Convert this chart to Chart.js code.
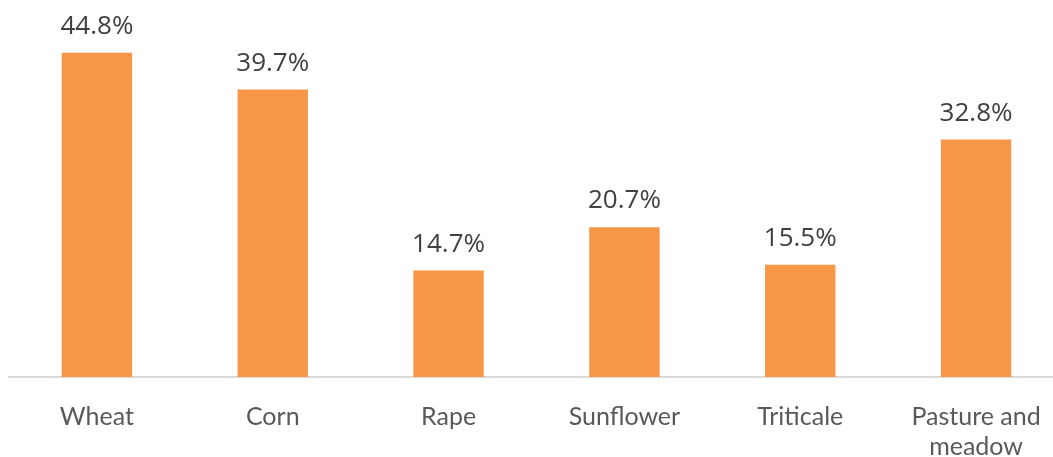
<!DOCTYPE html>
<html>
<head>
<meta charset="utf-8">
<script src="https://cdn.jsdelivr.net/npm/chart.js@4/dist/chart.umd.min.js"></script>
<style>
  html, body { margin: 0; padding: 0; background: #fff; overflow: hidden; }
  #wrap { position: relative; width: 1064px; height: 457px; }
</style>
</head>
<body>
<div id="wrap"><canvas id="cropChart"></canvas></div>
<script>
"use strict";

const crops = ["Wheat", "Corn", "Rape", "Sunflower", "Triticale", ["Pasture and", "meadow"]];
const shares = [44.8, 39.7, 14.7, 20.7, 15.5, 32.8];
const barColor = "#F79646";

// draws the percentage above each bar
const valueLabels = {
  id: "valueLabels",
  afterDatasetsDraw(chart) {
    const ctx = chart.ctx;
    const meta = chart.getDatasetMeta(0);
    ctx.save();
    ctx.font = "26px 'Open Sans'";
    ctx.fillStyle = "#404040";
    ctx.textAlign = "center";
    ctx.textBaseline = "alphabetic";
    meta.data.forEach((bar, i) => {
      ctx.fillText(shares[i].toFixed(1) + "%", bar.x, bar.y - 19);
    });
    ctx.restore();
  }
};

const ctx = document.getElementById("cropChart").getContext("2d");
new Chart(ctx, {
  type: "bar",
  data: {
    labels: crops,
    datasets: [{
      data: shares,
      backgroundColor: barColor,
      borderWidth: 0,
      categoryPercentage: 1,
      barPercentage: 0.4
    }]
  },
  options: {
    responsive: true,
    maintainAspectRatio: false,
    animation: false,
    layout: { padding: { top: 15, left: 9, right: 0, bottom: 0 } },
    plugins: { legend: { display: false }, tooltip: { enabled: false } },
    scales: {
      x: {
        grid: { display: false },
        border: { color: "#d9d9d9", width: 2 },
        ticks: {
          color: "#595959",
          font: { family: "Lato", size: 25 },
          padding: 17,
          maxRotation: 0,
          autoSkip: false
        },
        afterFit: scale => { scale.height = 80; }
      },
      y: {
        display: false,
        min: 0,
        max: 50
      }
    }
  },
  plugins: [valueLabels]
});
</script>
</body>
</html>
